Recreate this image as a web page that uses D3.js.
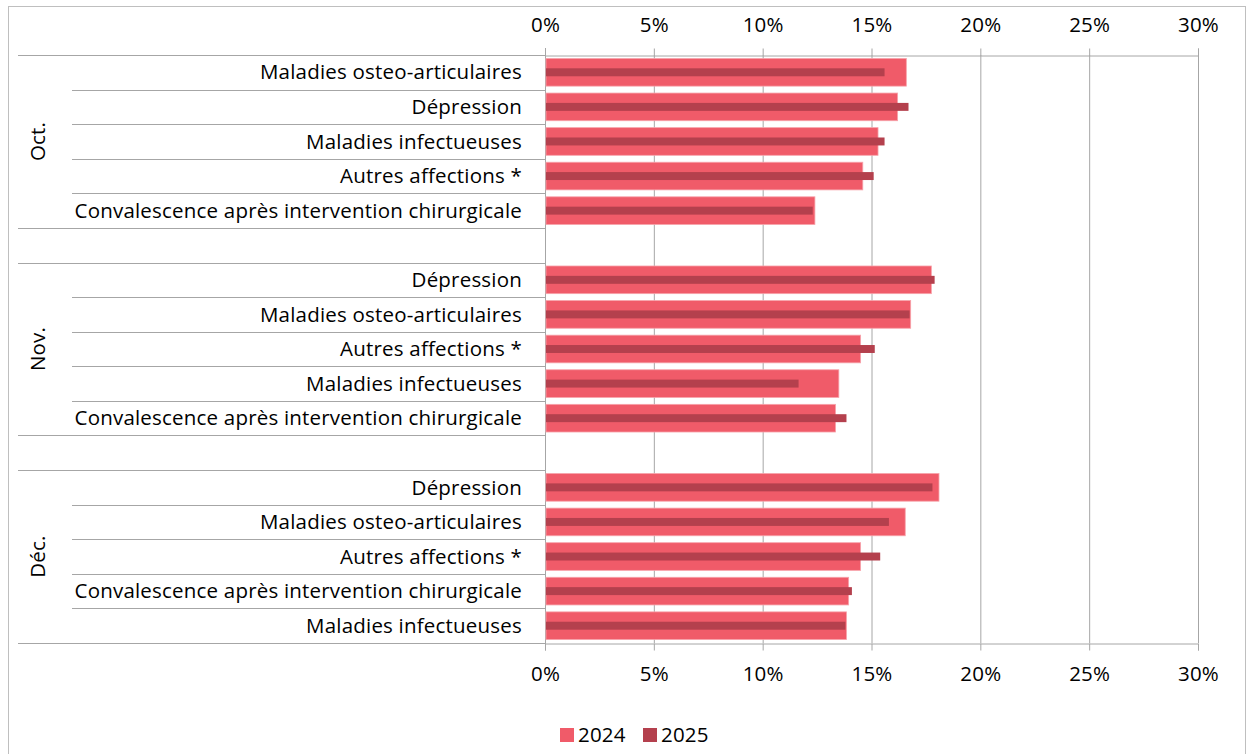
<!DOCTYPE html>
<html><head><meta charset="utf-8">
<script src="https://cdn.jsdelivr.net/npm/d3@7"></script>
<style>body{margin:0;background:#fff;} svg{display:block;font-family:"Open Sans",sans-serif;}</style>
</head><body>
<svg id="c" width="1247" height="754"></svg>
<script>
const months = ["Oct.", "Nov.", "Déc."];
const octCategories = ["Maladies osteo-articulaires","Dépression","Maladies infectueuses","Autres affections *","Convalescence après intervention chirurgicale"];
const oct2024 = [16.6, 16.2, 15.3, 14.6, 12.4];
const oct2025 = [15.6, 16.7, 15.6, 15.1, 12.3];
const novCategories = ["Dépression","Maladies osteo-articulaires","Autres affections *","Maladies infectueuses","Convalescence après intervention chirurgicale"];
const nov2024 = [17.75, 16.8, 14.5, 13.5, 13.35];
const nov2025 = [17.9, 16.75, 15.15, 11.65, 13.85];
const decCategories = ["Dépression","Maladies osteo-articulaires","Autres affections *","Convalescence après intervention chirurgicale","Maladies infectueuses"];
const dec2024 = [18.1, 16.55, 14.5, 13.95, 13.85];
const dec2025 = [17.8, 15.8, 15.4, 14.1, 13.8];
const seriesNames = ["2024", "2025"];
const xTicks = [0, 5, 10, 15, 20, 25, 30];

const groups = [
  {month: months[0], cats: octCategories, v1: oct2024, v2: oct2025},
  {month: months[1], cats: novCategories, v1: nov2024, v2: nov2025},
  {month: months[2], cats: decCategories, v1: dec2024, v2: dec2025}
];

const slots = [];
const rows = [];
groups.forEach((g, gi) => {
  g.cats.forEach((c, i) => {
    const key = g.month + "|" + c;
    slots.push(key);
    rows.push({key, cat: c, month: g.month, a: g.v1[i], b: g.v2[i]});
  });
  if (gi < groups.length - 1) slots.push("gap" + gi);
});

const col2024 = "#F05B69", col2025 = "#B4404D", gridCol = "#A6A6A6";
const FS = 20.5, LS = "0.2px";
const svg = d3.select("#c");

svg.append("rect").attr("x", 8.5).attr("y", 6.5).attr("width", 1237).attr("height", 760)
  .attr("fill", "none").attr("stroke", "#BFBFBF").attr("stroke-width", 1);

const x = d3.scaleLinear().domain([0, 30]).range([545, 1198]);
const y = d3.scaleBand().domain(slots).range([55, 643]).padding(0);
const bw = y.bandwidth();

svg.append("g").selectAll("line").data(xTicks.filter(t => t > 0)).join("line")
  .attr("x1", d => x(d) + 0.5).attr("x2", d => x(d) + 0.5)
  .attr("y1", 55).attr("y2", 643).attr("stroke", gridCol).attr("stroke-width", 1);

const fmt = d => d + "%";
const topAxis = svg.append("g").attr("transform", "translate(0,55.5)")
  .call(d3.axisTop(x).tickValues(xTicks).tickFormat(fmt).tickSize(7).tickPadding(17));
const botAxis = svg.append("g").attr("transform", "translate(0,643.5)")
  .call(d3.axisBottom(x).tickValues(xTicks).tickFormat(fmt).tickSize(7).tickPadding(16));
[topAxis, botAxis].forEach(a => {
  a.select(".domain").attr("stroke", gridCol);
  a.selectAll(".tick line").attr("stroke", gridCol);
  a.selectAll(".tick text").attr("font-size", FS).attr("fill", "#000")
    .attr("font-family", "'Open Sans', sans-serif").attr("letter-spacing", LS);
});

svg.append("line").attr("x1", x(0) + 0.5).attr("x2", x(0) + 0.5).attr("y1", 48).attr("y2", 650)
  .attr("stroke", gridCol);

const boundaries = [];
slots.forEach((s, i) => {
  const isGroupStart = i === 0 || slots[i - 1].startsWith("gap") || s.startsWith("gap");
  boundaries.push({y: y(s), full: isGroupStart});
});
boundaries.push({y: 643, full: true});
svg.append("g").selectAll("line").data(boundaries).join("line")
  .attr("x1", d => d.full ? 18 : 72).attr("x2", 545)
  .attr("y1", d => Math.round(d.y) + 0.5).attr("y2", d => Math.round(d.y) + 0.5)
  .attr("stroke", gridCol);

const h1 = bw * 0.8, h2 = bw * 0.23;
svg.append("g").selectAll("rect").data(rows).join("rect")
  .attr("x", x(0) + 1).attr("y", d => y(d.key) + (bw - h1) / 2)
  .attr("width", d => x(d.a) - x(0) - 1).attr("height", h1)
  .attr("fill", col2024).attr("stroke", "#F7A3AB").attr("stroke-width", 0.8);
svg.append("g").selectAll("rect").data(rows).join("rect")
  .attr("x", x(0) + 1).attr("y", d => y(d.key) + (bw - h2) / 2)
  .attr("width", d => x(d.b) - x(0) - 1).attr("height", h2)
  .attr("fill", col2025);

svg.append("g").selectAll("text").data(rows).join("text")
  .attr("x", 522).attr("y", d => y(d.key) + bw / 2).attr("dy", "0.35em")
  .attr("text-anchor", "end").attr("font-size", FS).attr("letter-spacing", LS).attr("fill", "#000")
  .text(d => d.cat);

groups.forEach(g => {
  const keys = g.cats.map(c => g.month + "|" + c);
  const cy = (y(keys[0]) + y(keys[keys.length - 1]) + bw) / 2;
  svg.append("text").attr("transform", `translate(45,${cy}) rotate(-90)`)
    .attr("text-anchor", "middle").attr("font-size", FS).attr("letter-spacing", LS)
    .attr("fill", "#000").text(g.month);
});

const legend = svg.append("g");
const lx = [560, 643];
seriesNames.forEach((s, i) => {
  legend.append("rect").attr("x", lx[i]).attr("y", 728).attr("width", 14).attr("height", 14)
    .attr("fill", i === 0 ? col2024 : col2025);
  legend.append("text").attr("x", lx[i] + 18).attr("y", 735).attr("dy", "0.35em")
    .attr("font-size", FS).attr("letter-spacing", LS).attr("fill", "#000").text(s);
});
</script>
</body></html>
